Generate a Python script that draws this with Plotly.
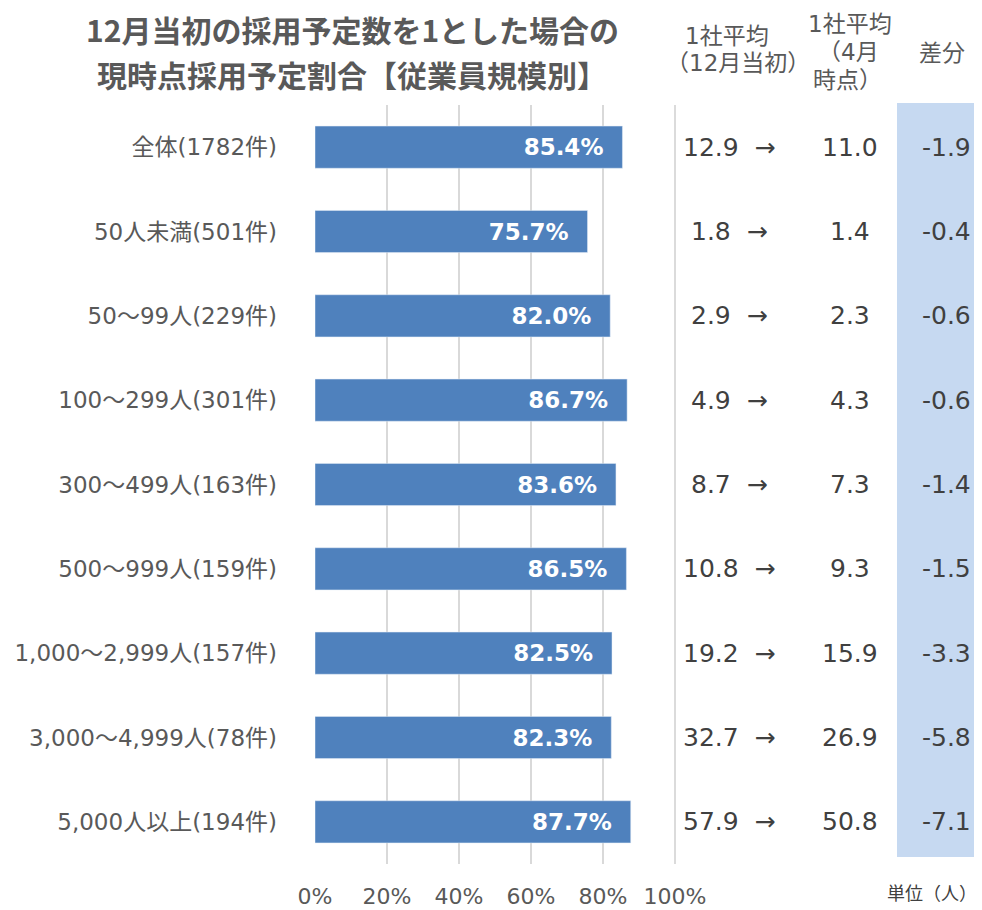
import plotly.graph_objects as go

# data
categories = [
    '全体(1782件)', '50人未満(501件)', '50～99人(229件)', '100～299人(301件)',
    '300～499人(163件)', '500～999人(159件)', '1,000～2,999人(157件)',
    '3,000～4,999人(78件)', '5,000人以上(194件)',
]
ratio_pct = [85.4, 75.7, 82.0, 86.7, 83.6, 86.5, 82.5, 82.3, 87.7]
avg_dec = [12.9, 1.8, 2.9, 4.9, 8.7, 10.8, 19.2, 32.7, 57.9]
avg_apr = [11.0, 1.4, 2.3, 4.3, 7.3, 9.3, 15.9, 26.9, 50.8]
diff = [-1.9, -0.4, -0.6, -0.6, -1.4, -1.5, -3.3, -5.8, -7.1]
x_ticks = [0, 20, 40, 60, 80, 100]

CJK = 'Noto Sans CJK JP'
MIX = 'DejaVu Sans, Noto Sans CJK JP'   # wide latin digits, CJK fallback
GRAY = '#595959'
DARK = '#404040'

# page body has an 8px margin, so the figure is drawn 8px in
OFF = 8
W, H = 982 - OFF, 910 - OFF
# plot area in page pixels (as measured on the reference)
L, R = 315, 675
T, B = 105, 864


def px_x(p):
    return (p - L) / (R - L)


def px_y(p):
    return (B - p) / (B - T)


fig = go.Figure()

fig.add_trace(go.Bar(
    y=categories,
    x=ratio_pct,
    orientation='h',
    width=0.5,
    marker=dict(color='#4F81BD'),
    text=[f'{v:.1f}%\u00a0\u00a0' for v in ratio_pct],
    textposition='inside',
    insidetextanchor='end',
    textfont=dict(family='DejaVu Sans', size=23, color='white', weight='bold'),
    hoverinfo='skip',
))

# light blue band behind the diff column
fig.add_shape(type='rect', xref='paper', yref='paper',
              x0=px_x(897), x1=px_x(990), y0=px_y(857), y1=px_y(103),
              fillcolor='#C6D9F1', line=dict(width=0), layer='below')

# per-row numbers on the right
for cat, a, b, d in zip(categories, avg_dec, avg_apr, diff):
    for txt, xx in [(f'{a:.1f}\u00a0\u00a0→', 729), (f'{b:.1f}', 850), (f'{d:.1f}', 946)]:
        fig.add_annotation(x=px_x(xx), xref='paper', y=cat, yref='y',
                           xanchor='center', yanchor='middle',
                           text=txt, showarrow=False,
                           font=dict(family=MIX, size=25, color=DARK))

# title, two lines
for txt, yy in [('12月当初の採用予定数を1とした場合の', 29),
                ('現時点採用予定割合【従業員規模別】', 74)]:
    fig.add_annotation(x=px_x(352), xref='paper', y=px_y(yy), yref='paper',
                       xanchor='center', yanchor='middle',
                       text=txt, showarrow=False,
                       font=dict(family=CJK, size=30, color=GRAY, weight='bold'))

# column headers (text, left edge x, centre y)
headers = [
    ('1社平均', 683, 36), ('（12月当初）', 664, 63),
    ('1社平均', 806, 24), ('（4月', 816, 52), ('時点）', 811, 80),
    ('差分', 917, 53),
]
for txt, xx, yy in headers:
    fig.add_annotation(x=px_x(xx), xref='paper', y=px_y(yy), yref='paper',
                       xanchor='left', yanchor='middle',
                       text=txt, showarrow=False,
                       font=dict(family=MIX, size=23, color=GRAY))

fig.add_annotation(x=px_x(932), xref='paper', y=px_y(892), yref='paper',
                   xanchor='center', yanchor='middle',
                   text='単位（人）', showarrow=False,
                   font=dict(family=CJK, size=18, color=DARK))

# separator line between chart and numbers
fig.add_shape(type='line', xref='paper', yref='paper',
              x0=1, x1=1, y0=0, y1=1,
              line=dict(color='#CFCFCF', width=1.5))

fig.update_layout(
    width=W, height=H,
    margin=dict(l=L - OFF, r=W - (R - OFF), t=T - OFF, b=H - (B - OFF)),
    plot_bgcolor='white', paper_bgcolor='white',
    showlegend=False,
    font=dict(family=MIX, color=GRAY),
)

fig.update_xaxes(
    range=[0, 100],
    tickvals=x_ticks,
    ticktext=[f'{v}%' for v in x_ticks],
    tickfont=dict(family=MIX, size=22, color=GRAY),
    showgrid=True, gridcolor='#D9D9D9', gridwidth=1.5,
    zeroline=False, showline=False, ticks='',
    ticklabelstandoff=17,
    automargin=False,
    fixedrange=True,
)

fig.update_yaxes(
    categoryorder='array', categoryarray=categories,
    range=[len(categories) - 0.5, -0.5],
    tickfont=dict(family=MIX, size=23, color=GRAY),
    showgrid=False, zeroline=False, showline=False, ticks='',
    ticklabelstandoff=37,
    automargin=False,
    fixedrange=True,
)

fig.write_html('out.html')
